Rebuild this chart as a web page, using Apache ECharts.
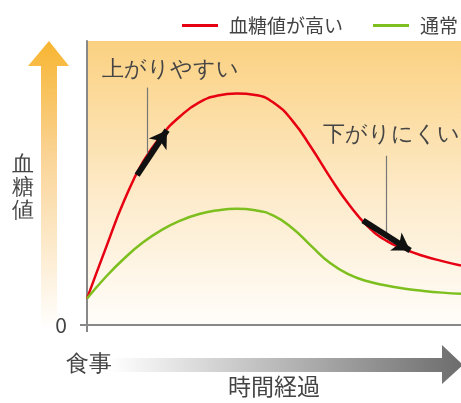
<!DOCTYPE html>
<html>
<head>
<meta charset="utf-8">
<script src="https://cdn.jsdelivr.net/npm/echarts@6/dist/echarts.min.js"></script>
<style>
  html, body { margin: 0; padding: 0; background: #fff; }
  #chart { width: 461px; height: 403px; }
</style>
</head>
<body>
<div id="chart"></div>
<script>
// 時間経過（0〜100）と血糖値（0〜100）の相対値
const timeX = [0, 5, 10, 15, 20, 25, 30, 35, 40, 45, 50, 55, 60, 65, 70, 75, 80, 85, 90, 95, 100]
const highY = [9.3, 27, 44, 57.5, 66.8, 73.6, 78.4, 80.8, 81.5, 81, 78.2, 71.8, 62.4, 52, 42.5, 34.8, 29.7, 26.6, 24.3, 22.5, 20.9]
const normalY = [9.3, 16.9, 23.5, 29.1, 33.5, 36.8, 39.1, 40.4, 40.9, 40.4, 38.4, 34, 27.8, 21.8, 17.8, 15.4, 13.9, 12.8, 12, 11.4, 11]
const seriesNames = ['血糖値が高い', '通常']
// 注釈の矢印（曲線上）と引き出し線
const upArrow = [[13.4, 52.8], [21.4, 68.6]]
const downArrow = [[73.8, 36.8], [86.4, 26.2]]
const upLeader = [[16, 83.6], [16, 60.3]]
const downLeader = [[80, 59.6], [80, 32.4]]

const font = '"Noto Sans CJK JP", "Noto Sans", sans-serif'
const chart = echarts.init(document.getElementById('chart'))

const zip = (xs, ys) => xs.map((x, i) => [x, ys[i]])
const arrowLine = (pts) => ({
  symbol: ['none', 'arrow'],
  symbolSize: [16, 17],
  lineStyle: { color: '#111', width: 6, type: 'solid' },
  data: [[{ coord: pts[0] }, { coord: pts[1] }]]
})
const leaderLine = (pts) => ({
  symbol: ['none', 'none'],
  lineStyle: { color: '#777', width: 1.2, type: 'solid' },
  data: [[{ coord: pts[0] }, { coord: pts[1] }]]
})

const option = {
  animation: false,
  textStyle: { fontFamily: font },
  legend: {
    left: 177,
    top: 11,
    width: 1000,
    icon: 'rect',
    itemWidth: 36,
    itemHeight: 3,
    itemGap: 30,
    textStyle: { fontSize: 19, color: '#444', padding: [0, 0, 0, 6], fontFamily: font },
    data: seriesNames
  },
  grid: {
    left: 87,
    right: 0,
    top: 41,
    bottom: 75,
    show: true,
    borderWidth: 0,
    backgroundColor: new echarts.graphic.LinearGradient(0, 0, 0, 1, [
      { offset: 0, color: '#fbd181' },
      { offset: 0.55, color: '#fdebcb' },
      { offset: 1, color: '#fffdfa' }
    ])
  },
  xAxis: {
    type: 'value',
    min: 0,
    max: 100,
    interval: 100,
    name: '時間経過',
    nameLocation: 'middle',
    nameGap: 50,
    nameTextStyle: { fontSize: 23, color: '#444', fontFamily: font },
    axisLine: { lineStyle: { color: '#888', width: 2 } },
    axisTick: { show: true, length: 7, customValues: [0], lineStyle: { color: '#888', width: 2 } },
    axisLabel: { show: false },
    splitLine: { show: false }
  },
  yAxis: {
    type: 'value',
    min: 0,
    max: 100,
    interval: 100,
    axisLine: { show: true, lineStyle: { color: '#888', width: 2 } },
    axisTick: { show: true, length: 7, customValues: [0], lineStyle: { color: '#888', width: 2 } },
    axisLabel: {
      customValues: [0],
      margin: 20,
      fontSize: 21,
      color: '#444',
      fontFamily: font
    },
    splitLine: { show: false }
  },
  series: [
    {
      name: seriesNames[0],
      type: 'line',
      data: zip(timeX, highY),
      smooth: 0.5,
      showSymbol: false,
      itemStyle: { color: '#e60012' },
      lineStyle: { color: '#e60012', width: 2.5 },
      z: 3,
      markLine: Object.assign({ silent: true, label: { show: false } }, leaderLine(upLeader))
    },
    {
      name: seriesNames[1],
      type: 'line',
      data: zip(timeX, normalY),
      smooth: 0.5,
      showSymbol: false,
      itemStyle: { color: '#7cbf1e' },
      lineStyle: { color: '#7cbf1e', width: 2.5 },
      z: 3,
      markLine: Object.assign({ silent: true, label: { show: false } }, leaderLine(downLeader))
    },
    {
      type: 'line',
      data: [],
      z: 5,
      markLine: Object.assign({ silent: true, label: { show: false } }, arrowLine(upArrow))
    },
    {
      type: 'line',
      data: [],
      z: 5,
      markLine: Object.assign({ silent: true, label: { show: false } }, arrowLine(downArrow))
    }
  ],
  graphic: [
    // 縦軸の矢印
    {
      type: 'polygon',
      shape: { points: [[49, 41], [69, 66], [57, 66], [57, 330], [41, 330], [41, 66], [28, 66]] },
      style: {
        fill: new echarts.graphic.LinearGradient(0, 0, 0, 1, [
          { offset: 0, color: '#f7b531' },
          { offset: 0.4, color: '#fad496' },
          { offset: 1, color: '#ffffff' }
        ])
      }
    },
    // 横軸の矢印
    {
      type: 'polygon',
      shape: { points: [[110, 358], [442, 358], [442, 345], [463, 365], [442, 384], [442, 372], [110, 372]] },
      style: {
        fill: new echarts.graphic.LinearGradient(0, 0, 1, 0, [
          { offset: 0, color: '#ffffff' },
          { offset: 1, color: '#6c6c6c' }
        ])
      }
    },
    {
      type: 'text',
      left: 12,
      top: 153,
      style: { text: '血\n糖\n値', fontSize: 22, lineHeight: 23, fill: '#444', font: '22px ' + font }
    },
    {
      type: 'text',
      left: 66,
      top: 353,
      style: { text: '食事', fontSize: 23, fill: '#444', font: '23px ' + font }
    },
    {
      type: 'text',
      left: 102,
      top: 59,
      style: { text: '上がりやすい', fontSize: 22, fill: '#444', font: '22px ' + font }
    },
    {
      type: 'text',
      left: 323,
      top: 124,
      style: { text: '下がりにくい', fontSize: 22, fill: '#444', font: '22px ' + font }
    }
  ]
}

chart.setOption(option)
window.addEventListener('resize', () => chart.resize())
</script>
</body>
</html>
